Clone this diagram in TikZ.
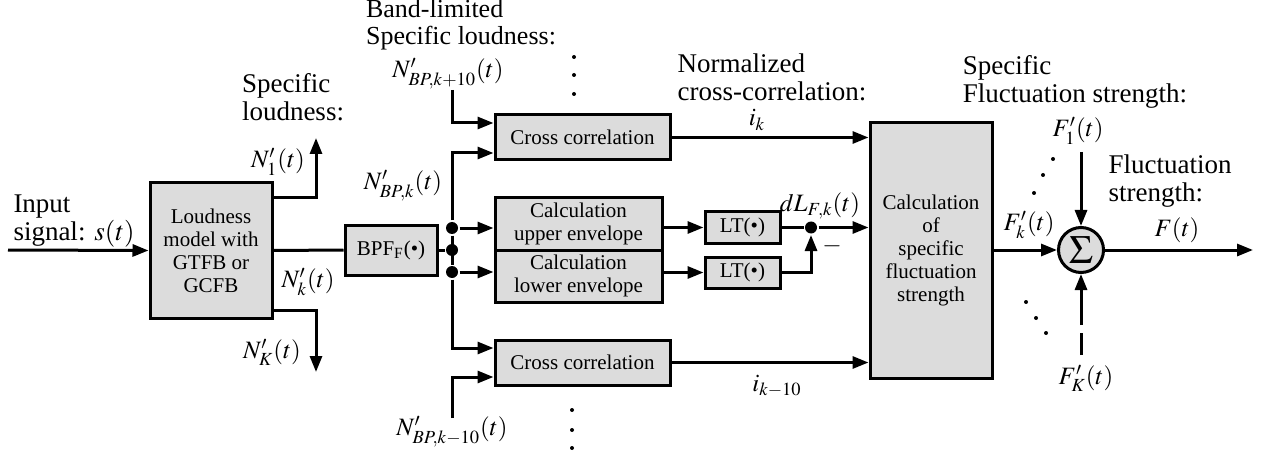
\documentclass[tikz,border=0pt]{standalone}
\usepackage{mathptmx}
\usepackage{fontspec}
\setmainfont{Liberation Serif}
\usetikzlibrary{arrows.meta}
\definecolor{boxgray}{RGB}{220,220,220}

\begin{document}
\begin{tikzpicture}[x=0.5pt,y=-0.5pt,line width=1.5pt,
  arr/.style={-{Triangle[length=8pt,width=6pt]}},
  blk/.style={draw,fill=boxgray,inner sep=0pt,align=center,font=\fontsize{10.5}{11.5}\selectfont},
  lbl/.style={inner sep=0pt,align=left,font=\fontsize{13.5}{14}\selectfont},
  mlbl/.style={inner sep=0pt,font=\fontsize{12.5}{13}\selectfont},
  jdot/.style={circle,fill,inner sep=0pt,minimum size=6pt}]
\useasboundingbox (0,0) rectangle (1267,454);

% blocks
\node[blk,minimum width=61pt,minimum height=67.5pt] (loud) at (211,250.5) {Loudness\\model with\\GTFB or\\GCFB};
\node[blk,minimum width=46pt,minimum height=25pt] (bpf) at (391,250) {BPF\textsubscript{F}(\textbullet)};
\node[blk,minimum width=87.5pt,minimum height=22.5pt] (ccup) at (582.5,137.5) {Cross correlation};
\node[blk,minimum width=83.5pt,minimum height=26pt] (envup) at (578.5,224) {Calculation\\upper envelope};
\node[blk,minimum width=83.5pt,minimum height=26pt] (envlo) at (578.5,276) {Calculation\\lower envelope};
\node[blk,minimum width=37.5pt,minimum height=15.5pt] (ltup) at (742.5,227.5) {LT(\textbullet)};
\node[blk,minimum width=37.5pt,minimum height=15.5pt] (ltlo) at (742.5,272.5) {LT(\textbullet)};
\node[blk,minimum width=87.5pt,minimum height=22.5pt] (cclo) at (582.5,362.5) {Cross correlation};
\node[blk,minimum width=61pt,minimum height=127.5pt] (calc) at (931,250.5) {Calculation\\of\\specific\\fluctuation\\strength};
\node[blk,circle,minimum size=22.5pt] (sum) at (1081,250) {\fontsize{20}{20}\selectfont$\Sigma$};

\node[jdot] (j1) at (452,228) {};
\node[jdot] (j2) at (452,250) {};
\node[jdot] (j3) at (452,272) {};
\node[jdot] (sub) at (811,227.5) {};

\coordinate (in) at (8,250);
\coordinate (n1) at (316,198);
\coordinate (n1end) at (316,138);
\coordinate (nK) at (316,310);
\coordinate (nKend) at (316,372);
\coordinate (ktop) at (452,90);
\coordinate (kin) at (452,123);
\coordinate (jtop) at (452,153);
\coordinate (jbot) at (452,348);
\coordinate (kbot) at (452,418);
\coordinate (kbin) at (452,377);
\coordinate (f1) at (1081,152);
\coordinate (fK) at (1081,355);
\coordinate (out) at (1253,250);

% connectors
\draw[arr] (in) -- (loud.west);
\draw[arr] (loud.east |- n1) -- (n1) -- (n1end);
\draw[arr] (loud.east |- nK) -- (nK) -- (nKend);
\draw (loud.east) -- (bpf.west);
\draw (bpf.east) -- (j2);
\draw (j1) -- (j3);
\draw[arr] (ktop) -- (kin) -- (kin -| ccup.west);
\draw[arr] (j1) -- (jtop) -- (jtop -| ccup.west);
\draw[arr] (j3) -- (jbot) -- (jbot -| cclo.west);
\draw[arr] (kbot) -- (kbin) -- (kbin -| cclo.west);
\draw[arr] (j1) -- (j1 -| envup.west);
\draw[arr] (j3) -- (j3 -| envlo.west);
\draw[arr] (envup.east |- ltup) -- (ltup.west);
\draw[arr] (envlo.east |- ltlo) -- (ltlo.west);
\draw (ltup.east) -- (sub);
\draw[arr] (ltlo.east) -| (sub.south);
\draw[arr] (sub) -- (sub -| calc.west);
\draw[arr] (ccup.east) -- (ccup.east -| calc.west);
\draw[arr] (cclo.east) -- (cclo.east -| calc.west);
\draw[arr] (calc.east |- sum) -- (sum.west);
\draw[arr] (f1) -- (sum.north);
\draw[arr,dash pattern=on 11pt off 4pt on 60pt off 1pt] (fK) -- (sum.south);
\draw[arr] (sum.east) -- (out);

% labels
\node[lbl,anchor=west] (lblin) at (12,221) {Input\\signal: $s(t)$};
\node[lbl] (lblsl) at (293,97) {Specific\\loudness:};
\node[mlbl] (lbln1) at (278,162) {$N'_{1}(t)$};
\node[mlbl] (lblnk) at (308,282) {$N'_{k}(t)$};
\node[mlbl] (lblnK) at (272,352) {$N'_{K}(t)$};
\node[lbl,font=\fontsize{13}{13.5}\selectfont] (lblbl) at (461,25) {Band-limited\\Specific loudness:};
\node[mlbl] (lblbpa) at (448,74) {$N'_{BP,k+10}(t)$};
\node[mlbl] (lblbpk) at (403,186) {$N'_{BP,k}(t)$};
\node[mlbl] (lblbpb) at (452,432) {$N'_{BP,k-10}(t)$};
\node[lbl] (lblnc) at (772,77) {Normalized\\cross-correlation:};
\node[mlbl] (lblik) at (757,120) {$i_{k}$};
\node[mlbl] (lblikb) at (777,386) {$i_{k-10}$};
\node[mlbl] (lbldl) at (820,206) {$dL_{F,k}(t)$};
\node[mlbl] (lblm) at (832,246) {$-$};
\node[lbl] (lblsf) at (1075,82) {Specific\\Fluctuation strength:};
\node[mlbl] (lblf1) at (1078,131) {$F'_{1}(t)$};
\node[mlbl] (lblfk) at (1029,225) {$F'_{k}(t)$};
\node[lbl] (lblfs) at (1170,181) {Fluctuation\\strength:};
\node[mlbl] (lblF) at (1177,230) {$F(t)$};
\node[mlbl] (lblfK) at (1086,378) {$F'_{K}(t)$};

% dots
\foreach \y in {57,75,94} \fill (574,\y) circle (1pt);
\foreach \y in {410,430,448} \fill (572,\y) circle (1pt);
\fill (1053,159) circle (1pt) (1043,175) circle (1pt) (1034,193) circle (1pt);
\fill (1026,302) circle (1pt) (1036,318) circle (1pt) (1046,333) circle (1pt);
\end{tikzpicture}
\end{document}
